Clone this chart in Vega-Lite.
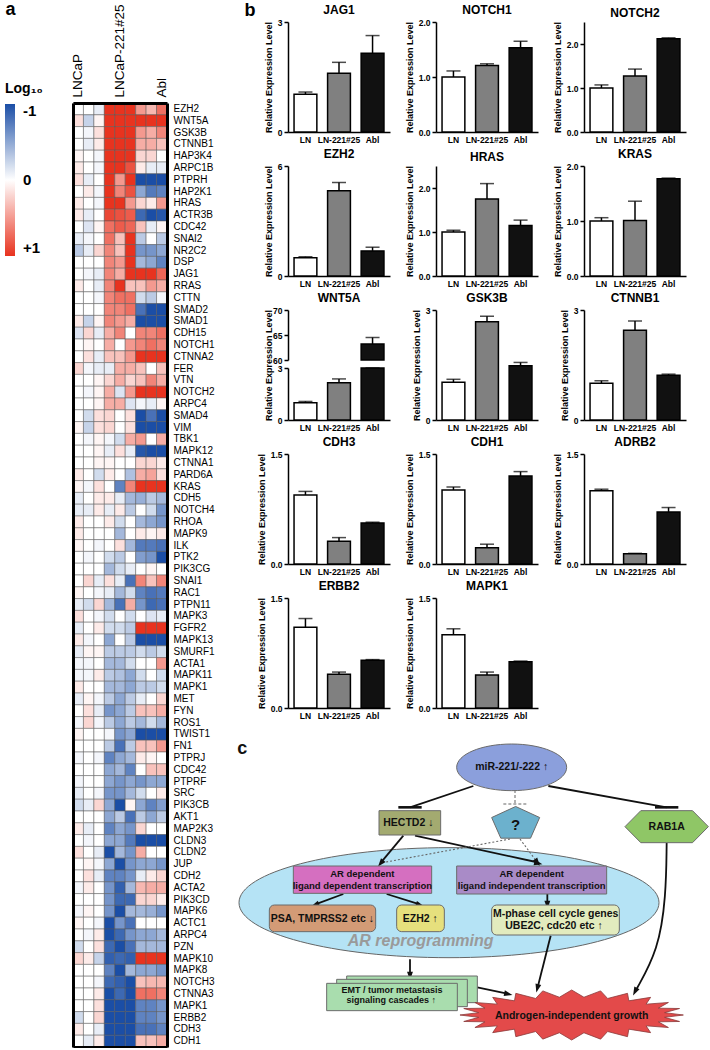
{
  "$schema": "https://vega.github.io/schema/vega-lite/v6.json",
  "padding": {"left": 5, "right": 5, "top": 0, "bottom": 0},
  "config": {
    "font": "Liberation Sans",
    "view": {"stroke": null},
    "title": {"fontSize": 12, "fontWeight": "bold", "color": "black", "offset": 1, "font": "Liberation Sans"},
    "axis": {"grid": false, "labelColor": "black", "labelFontSize": 8.5, "labelFontWeight": "bold", "titleColor": "black", "titleFontSize": 9, "titleFontWeight": "bold", "domainColor": "black", "domainWidth": 1.5, "tickColor": "black", "tickWidth": 1.5, "tickSize": 4, "labelFont": "Liberation Sans", "titleFont": "Liberation Sans"},
    "axisX": {"ticks": false, "labelAngle": 0, "labelPadding": 3},
    "axisY": {"labelPadding": 2, "titlePadding": 4}
  },
  "datasets": {
    "heat": [
      {"g":"EZH2","L1":0,"L2":0,"L3":-0.1,"M1":1,"M2":1,"M3":1,"A1":0.5,"A2":0.35,"A3":0.7},
      {"g":"WNT5A","L1":0.15,"L2":-0.25,"L3":0.05,"M1":1,"M2":1,"M3":1,"A1":1,"A2":1,"A3":1},
      {"g":"GSK3B","L1":0,"L2":-0.05,"L3":0.15,"M1":1,"M2":1,"M3":1,"A1":0.5,"A2":0.4,"A3":0.6},
      {"g":"CTNNB1","L1":0,"L2":-0.1,"L3":0.1,"M1":1,"M2":1,"M3":1,"A1":0.4,"A2":0.4,"A3":0.3},
      {"g":"HAP3K4","L1":0.05,"L2":0,"L3":-0.05,"M1":1,"M2":1,"M3":1,"A1":0.2,"A2":0.2,"A3":0},
      {"g":"ARPC1B","L1":0.1,"L2":0,"L3":-0.05,"M1":1,"M2":1,"M3":0.85,"A1":0.1,"A2":-0.1,"A3":-0.1},
      {"g":"PTPRH","L1":0.15,"L2":-0.1,"L3":0,"M1":1,"M2":0.5,"M3":1,"A1":-1,"A2":-1,"A3":-1},
      {"g":"HAP2K1","L1":0,"L2":0.1,"L3":-0.05,"M1":1,"M2":0.6,"M3":0.85,"A1":-0.5,"A2":-0.75,"A3":-0.7},
      {"g":"HRAS","L1":0.1,"L2":0,"L3":-0.05,"M1":1,"M2":1,"M3":0.5,"A1":0.2,"A2":0.1,"A3":0.5},
      {"g":"ACTR3B","L1":0.1,"L2":-0.1,"L3":0,"M1":0.9,"M2":0.85,"M3":0.8,"A1":-0.85,"A2":-1,"A3":-0.95},
      {"g":"CDC42","L1":0,"L2":-0.15,"L3":0.05,"M1":0.7,"M2":0.8,"M3":0.75,"A1":0.3,"A2":-0.1,"A3":0.05},
      {"g":"SNAI2","L1":-0.1,"L2":-0.05,"L3":0,"M1":0.7,"M2":0.3,"M3":1,"A1":-0.3,"A2":0,"A3":-0.3},
      {"g":"NR2C2","L1":-0.3,"L2":-0.1,"L3":0.2,"M1":0.6,"M2":0.3,"M3":1,"A1":-0.6,"A2":-0.6,"A3":-0.5},
      {"g":"DSP","L1":0,"L2":0,"L3":0,"M1":0.6,"M2":0.5,"M3":1,"A1":-0.4,"A2":-0.5,"A3":-0.7},
      {"g":"JAG1","L1":0,"L2":-0.05,"L3":-0.1,"M1":0.6,"M2":0.4,"M3":1,"A1":1,"A2":1,"A3":0.75},
      {"g":"RRAS","L1":0.1,"L2":0,"L3":-0.1,"M1":0.6,"M2":1,"M3":0.3,"A1":0.3,"A2":0.5,"A3":0.4},
      {"g":"CTTN","L1":0,"L2":0,"L3":-0.05,"M1":0.6,"M2":0.7,"M3":0.7,"A1":-0.2,"A2":-0.3,"A3":-0.05},
      {"g":"SMAD2","L1":0,"L2":0,"L3":0,"M1":0.6,"M2":0.6,"M3":0.7,"A1":-0.8,"A2":-1,"A3":-1},
      {"g":"SMAD1","L1":0.1,"L2":-0.25,"L3":0.05,"M1":0.6,"M2":0.5,"M3":0.4,"A1":-1,"A2":-1,"A3":-1},
      {"g":"CDH15","L1":-0.15,"L2":0.2,"L3":-0.1,"M1":0.4,"M2":0.6,"M3":0,"A1":0.6,"A2":0.6,"A3":0.7},
      {"g":"NOTCH1","L1":0,"L2":0.05,"L3":0,"M1":0.4,"M2":0,"M3":0.5,"A1":0.6,"A2":0.7,"A3":0.6},
      {"g":"CTNNA2","L1":0,"L2":0.15,"L3":-0.1,"M1":0.3,"M2":0.3,"M3":0.5,"A1":1,"A2":1,"A3":1},
      {"g":"FER","L1":0.2,"L2":-0.05,"L3":-0.1,"M1":-0.1,"M2":0.4,"M3":0.4,"A1":0.3,"A2":0,"A3":0.3},
      {"g":"VTN","L1":0,"L2":0,"L3":0.05,"M1":0.2,"M2":0.4,"M3":0.2,"A1":0.3,"A2":0.6,"A3":0.4},
      {"g":"NOTCH2","L1":0,"L2":-0.05,"L3":0.05,"M1":0.4,"M2":-0.15,"M3":0.5,"A1":1,"A2":1,"A3":1},
      {"g":"ARPC4","L1":0,"L2":0,"L3":0.05,"M1":0.4,"M2":0.4,"M3":-0.15,"A1":-0.05,"A2":-0.1,"A3":0.05},
      {"g":"SMAD4","L1":0,"L2":-0.2,"L3":0.15,"M1":0.2,"M2":0,"M3":0.15,"A1":-1,"A2":-0.8,"A3":-1},
      {"g":"VIM","L1":0.05,"L2":-0.25,"L3":0.15,"M1":0.2,"M2":0,"M3":0.15,"A1":-1,"A2":-1,"A3":-1},
      {"g":"TBK1","L1":0,"L2":-0.05,"L3":0.05,"M1":-0.05,"M2":-0.2,"M3":0.4,"A1":0.5,"A2":0,"A3":0.4},
      {"g":"MAPK12","L1":0,"L2":0,"L3":0.05,"M1":-0.1,"M2":0.15,"M3":-0.1,"A1":-0.95,"A2":-1,"A3":-1},
      {"g":"CTNNA1","L1":0,"L2":0,"L3":0.05,"M1":0.05,"M2":0,"M3":0,"A1":0.2,"A2":0.2,"A3":0.1},
      {"g":"PARD6A","L1":0.1,"L2":0,"L3":-0.2,"M1":0.1,"M2":0,"M3":-0.35,"A1":0.4,"A2":0.45,"A3":0.15},
      {"g":"KRAS","L1":0.05,"L2":-0.05,"L3":0.15,"M1":0,"M2":-0.7,"M3":0.6,"A1":1,"A2":1,"A3":1},
      {"g":"CDH5","L1":-0.1,"L2":0,"L3":0.1,"M1":0.1,"M2":-0.1,"M3":-0.4,"A1":-0.45,"A2":-0.3,"A3":-0.4},
      {"g":"NOTCH4","L1":-0.1,"L2":-0.1,"L3":0.1,"M1":-0.1,"M2":0.1,"M3":-0.3,"A1":0,"A2":-0.2,"A3":-0.6},
      {"g":"RHOA","L1":0.1,"L2":0,"L3":0,"M1":0.1,"M2":-0.2,"M3":0,"A1":-0.4,"A2":-0.5,"A3":-0.6},
      {"g":"MAPK9","L1":0.1,"L2":0,"L3":0,"M1":0,"M2":-0.4,"M3":0,"A1":0.1,"A2":0.05,"A3":0.1},
      {"g":"ILK","L1":0.05,"L2":0,"L3":-0.05,"M1":0,"M2":0.15,"M3":-0.4,"A1":-0.75,"A2":-0.75,"A3":-0.8},
      {"g":"PTK2","L1":0,"L2":-0.05,"L3":0,"M1":-0.2,"M2":-0.3,"M3":0,"A1":-0.55,"A2":-0.6,"A3":-1},
      {"g":"PIK3CG","L1":0,"L2":0,"L3":0,"M1":-0.4,"M2":-0.2,"M3":-0.1,"A1":0,"A2":0.05,"A3":0},
      {"g":"SNAI1","L1":0,"L2":0.2,"L3":-0.1,"M1":0.15,"M2":-0.1,"M3":-0.8,"A1":0.6,"A2":0.3,"A3":0.6},
      {"g":"RAC1","L1":0.05,"L2":0,"L3":-0.05,"M1":-0.1,"M2":-0.4,"M3":-0.2,"A1":-0.7,"A2":-0.8,"A3":-0.75},
      {"g":"PTPN11","L1":-0.1,"L2":-0.2,"L3":0.2,"M1":-0.4,"M2":-0.8,"M3":0.4,"A1":-0.6,"A2":-0.85,"A3":-0.8},
      {"g":"MAPK3","L1":0.15,"L2":0,"L3":-0.05,"M1":-0.2,"M2":0,"M3":-0.2,"A1":0,"A2":-0.15,"A3":-0.1},
      {"g":"FGFR2","L1":-0.1,"L2":0,"L3":0.1,"M1":-0.2,"M2":-0.2,"M3":-0.3,"A1":1,"A2":1,"A3":1},
      {"g":"MAPK13","L1":0.1,"L2":-0.05,"L3":0,"M1":-0.5,"M2":0,"M3":-0.3,"A1":-1,"A2":-1,"A3":-1},
      {"g":"SMURF1","L1":-0.1,"L2":0.05,"L3":0.05,"M1":-0.3,"M2":-0.3,"M3":-0.3,"A1":-0.2,"A2":-0.3,"A3":-0.2},
      {"g":"ACTA1","L1":-0.05,"L2":-0.05,"L3":0,"M1":-0.4,"M2":-0.4,"M3":-0.2,"A1":0,"A2":0,"A3":0.5},
      {"g":"MAPK11","L1":-0.05,"L2":-0.05,"L3":0.1,"M1":-0.3,"M2":-0.35,"M3":-0.5,"A1":-0.2,"A2":0,"A3":-0.2},
      {"g":"MAPK1","L1":0.1,"L2":0,"L3":0,"M1":-0.4,"M2":-0.4,"M3":-0.5,"A1":-0.3,"A2":-0.3,"A3":-0.2},
      {"g":"MET","L1":-0.1,"L2":0.05,"L3":-0.05,"M1":-0.3,"M2":-0.5,"M3":-0.3,"A1":-0.1,"A2":0,"A3":0.2},
      {"g":"FYN","L1":0,"L2":0.15,"L3":-0.1,"M1":-0.6,"M2":-0.5,"M3":-0.3,"A1":0.3,"A2":0.3,"A3":0.4},
      {"g":"ROS1","L1":-0.05,"L2":0.2,"L3":-0.05,"M1":-0.3,"M2":-0.5,"M3":-0.3,"A1":-0.4,"A2":-0.2,"A3":-0.4},
      {"g":"TWIST1","L1":0.05,"L2":0,"L3":0,"M1":-0.05,"M2":-0.6,"M3":-0.5,"A1":-1,"A2":-1,"A3":-1},
      {"g":"FN1","L1":0,"L2":0,"L3":0,"M1":-0.3,"M2":-0.8,"M3":-0.3,"A1":0.3,"A2":0.3,"A3":0.5},
      {"g":"PTPRJ","L1":-0.05,"L2":0,"L3":-0.05,"M1":-0.7,"M2":-0.5,"M3":-0.4,"A1":0.1,"A2":0.05,"A3":0},
      {"g":"CDC42 ","L1":0,"L2":0,"L3":0,"M1":-0.5,"M2":-0.4,"M3":-0.7,"A1":0,"A2":0.3,"A3":0.3},
      {"g":"PTPRF","L1":-0.05,"L2":0,"L3":0,"M1":-0.5,"M2":-0.6,"M3":-0.5,"A1":-0.6,"A2":-0.5,"A3":-0.5},
      {"g":"SRC","L1":-0.1,"L2":0,"L3":-0.05,"M1":-0.6,"M2":-0.6,"M3":-0.4,"A1":-0.2,"A2":0,"A3":0.1},
      {"g":"PIK3CB","L1":-0.2,"L2":-0.1,"L3":0.2,"M1":-0.5,"M2":-1,"M3":0.05,"A1":-0.5,"A2":-0.7,"A3":-0.55},
      {"g":"AKT1","L1":0,"L2":0,"L3":0,"M1":-0.5,"M2":-0.3,"M3":-0.8,"A1":-0.3,"A2":-0.5,"A3":-0.3},
      {"g":"MAP2K3","L1":0.1,"L2":-0.1,"L3":0,"M1":-0.7,"M2":-0.5,"M3":-0.6,"A1":0.2,"A2":0,"A3":0},
      {"g":"CLDN3","L1":0,"L2":-0.05,"L3":0,"M1":-0.5,"M2":-0.5,"M3":-0.75,"A1":-1,"A2":-1,"A3":-1},
      {"g":"CLDN2","L1":0.15,"L2":0,"L3":-0.1,"M1":-1,"M2":-0.4,"M3":-0.6,"A1":0.4,"A2":0,"A3":0},
      {"g":"JUP","L1":0,"L2":0.05,"L3":-0.05,"M1":-0.5,"M2":-1,"M3":-0.6,"A1":-0.5,"A2":-0.5,"A3":-0.6},
      {"g":"CDH2","L1":0,"L2":0.15,"L3":-0.1,"M1":-0.7,"M2":-0.7,"M3":-0.6,"A1":-0.1,"A2":0.1,"A3":0.2},
      {"g":"ACTA2","L1":-0.05,"L2":0.1,"L3":0,"M1":-0.6,"M2":-0.9,"M3":-0.4,"A1":0.35,"A2":0.4,"A3":0.4},
      {"g":"PIK3CD","L1":0,"L2":0,"L3":0,"M1":-0.6,"M2":-0.85,"M3":-0.85,"A1":0.2,"A2":0.2,"A3":0.1},
      {"g":"MAPK6","L1":-0.05,"L2":0.05,"L3":0,"M1":-0.6,"M2":-1,"M3":-0.4,"A1":-0.4,"A2":-0.45,"A3":-0.6},
      {"g":"ACTC1","L1":0.05,"L2":0,"L3":-0.05,"M1":-1,"M2":-0.6,"M3":-0.8,"A1":0,"A2":0,"A3":0},
      {"g":"ARPC4 ","L1":0,"L2":-0.05,"L3":0.1,"M1":-1,"M2":-0.85,"M3":-0.6,"A1":-0.5,"A2":-0.5,"A3":-0.4},
      {"g":"PZN","L1":-0.2,"L2":0,"L3":0.15,"M1":-0.85,"M2":-1,"M3":-0.8,"A1":-0.4,"A2":-0.4,"A3":-0.4},
      {"g":"MAPK10","L1":0.2,"L2":0.1,"L3":-0.25,"M1":-0.9,"M2":-0.85,"M3":-0.9,"A1":1,"A2":1,"A3":1},
      {"g":"MAPK8","L1":0,"L2":0,"L3":0,"M1":-0.7,"M2":-1,"M3":-0.4,"A1":-0.5,"A2":-0.5,"A3":-0.6},
      {"g":"NOTCH3","L1":0,"L2":0,"L3":-0.05,"M1":-0.85,"M2":-0.9,"M3":-1,"A1":0.3,"A2":0.35,"A3":0.35},
      {"g":"CTNNA3","L1":0,"L2":0,"L3":0.1,"M1":-1,"M2":-0.85,"M3":-1,"A1":0.7,"A2":0.7,"A3":0.6},
      {"g":"MAPK1 ","L1":0,"L2":0,"L3":0.15,"M1":-1,"M2":-1,"M3":-1,"A1":-0.7,"A2":-0.7,"A3":-0.6},
      {"g":"ERBB2","L1":-0.2,"L2":0,"L3":0.2,"M1":-1,"M2":-1,"M3":-1,"A1":-0.7,"A2":-0.7,"A3":-0.6},
      {"g":"CDH3","L1":0.1,"L2":0,"L3":-0.1,"M1":-1,"M2":-1,"M3":-1,"A1":-0.8,"A2":-0.8,"A3":-0.7},
      {"g":"CDH1","L1":0,"L2":-0.1,"L3":0.1,"M1":-1,"M2":-1,"M3":-1,"A1":0.3,"A2":0.3,"A3":0.4}
    ],
    "bars": [
      {"gene":"JAG1","grp":"LN","val":1.03,"hi":1.09},{"gene":"JAG1","grp":"LN-221#25","val":1.6,"hi":1.9},{"gene":"JAG1","grp":"Abl","val":2.15,"hi":2.63},
      {"gene":"NOTCH1","grp":"LN","val":1.0,"hi":1.11},{"gene":"NOTCH1","grp":"LN-221#25","val":1.21,"hi":1.24},{"gene":"NOTCH1","grp":"Abl","val":1.53,"hi":1.65},
      {"gene":"NOTCH2","grp":"LN","val":1.0,"hi":1.07},{"gene":"NOTCH2","grp":"LN-221#25","val":1.27,"hi":1.43},{"gene":"NOTCH2","grp":"Abl","val":2.12,"hi":2.14},
      {"gene":"EZH2","grp":"LN","val":1.0,"hi":1.05},{"gene":"EZH2","grp":"LN-221#25","val":4.65,"hi":5.1},{"gene":"EZH2","grp":"Abl","val":1.37,"hi":1.57},
      {"gene":"HRAS","grp":"LN","val":1.0,"hi":1.04},{"gene":"HRAS","grp":"LN-221#25","val":1.75,"hi":2.1},{"gene":"HRAS","grp":"Abl","val":1.15,"hi":1.27},
      {"gene":"KRAS","grp":"LN","val":1.0,"hi":1.06},{"gene":"KRAS","grp":"LN-221#25","val":1.01,"hi":1.36},{"gene":"KRAS","grp":"Abl","val":1.77,"hi":1.78},
      {"gene":"WNT5A","grp":"LN","val":1.0,"hi":1.07},{"gene":"WNT5A","grp":"LN-221#25","val":2.15,"hi":2.37},{"gene":"WNT5A","grp":"Abl","val":63.2,"hi":64.5},
      {"gene":"GSK3B","grp":"LN","val":1.03,"hi":1.11},{"gene":"GSK3B","grp":"LN-221#25","val":2.68,"hi":2.83},{"gene":"GSK3B","grp":"Abl","val":1.48,"hi":1.57},
      {"gene":"CTNNB1","grp":"LN","val":1.0,"hi":1.07},{"gene":"CTNNB1","grp":"LN-221#25","val":2.45,"hi":2.7},{"gene":"CTNNB1","grp":"Abl","val":1.22,"hi":1.25},
      {"gene":"CDH3","grp":"LN","val":0.94,"hi":0.99},{"gene":"CDH3","grp":"LN-221#25","val":0.31,"hi":0.36},{"gene":"CDH3","grp":"Abl","val":0.56,"hi":0.57},
      {"gene":"CDH1","grp":"LN","val":1.01,"hi":1.05},{"gene":"CDH1","grp":"LN-221#25","val":0.22,"hi":0.27},{"gene":"CDH1","grp":"Abl","val":1.2,"hi":1.26},
      {"gene":"ADRB2","grp":"LN","val":1.0,"hi":1.02},{"gene":"ADRB2","grp":"LN-221#25","val":0.14,"hi":0.145},{"gene":"ADRB2","grp":"Abl","val":0.71,"hi":0.77},
      {"gene":"ERBB2","grp":"LN","val":1.1,"hi":1.22},{"gene":"ERBB2","grp":"LN-221#25","val":0.46,"hi":0.49},{"gene":"ERBB2","grp":"Abl","val":0.65,"hi":0.66},
      {"gene":"MAPK1","grp":"LN","val":1.0,"hi":1.08},{"gene":"MAPK1","grp":"LN-221#25","val":0.45,"hi":0.49},{"gene":"MAPK1","grp":"Abl","val":0.63,"hi":0.64}
    ],
    "shapes": [
      {"id":"ar","x":657,"y":638},{"id":"mir","x":845,"y":232},{"id":"q","x":857,"y":397},{"id":"rab1a","x":1310,"y":410},{"id":"growth","x":1025,"y":975}
    ],
    "boxes": [
      {"id":"hectd2","x":447,"x2":632,"y":362,"y2":435},
      {"id":"pink","x":190,"x2":605,"y":528,"y2":610},
      {"id":"purple","x":680,"x2":1130,"y":528,"y2":612},
      {"id":"emt3","x":350,"x2":742,"y":858,"y2":938},
      {"id":"emt2","x":320,"x2":712,"y":868,"y2":950},
      {"id":"emt","x":290,"x2":682,"y":880,"y2":962}
    ],
    "rboxes": [
      {"id":"psa","x":118,"x2":437,"y":645,"y2":725},
      {"id":"ezh2","x":500,"x2":643,"y":645,"y2":725},
      {"id":"mphase","x":785,"x2":1168,"y":645,"y2":735}
    ],
    "lines": [
      {"k":"solid","x":730,"y":288,"x2":540,"y2":352},
      {"k":"tbar","x":505,"y":352,"x2":575,"y2":352},
      {"k":"solid","x":955,"y":288,"x2":1310,"y2":352},
      {"k":"tbar","x":1275,"y":352,"x2":1345,"y2":352},
      {"k":"solid","x":520,"y":437,"x2":455,"y2":515},
      {"k":"solid","x":555,"y":437,"x2":918,"y2":516},
      {"k":"solid","x":340,"y":612,"x2":262,"y2":641},
      {"k":"solid","x":470,"y":612,"x2":562,"y2":641},
      {"k":"solid","x":952,"y":612,"x2":952,"y2":640},
      {"k":"solid","x":540,"y":808,"x2":540,"y2":852},
      {"k":"solid","x":742,"y":892,"x2":828,"y2":910},
      {"k":"solid","x":962,"y":737,"x2":924,"y2":888},
      {"k":"dash","x":855,"y":300,"x2":855,"y2":340},
      {"k":"dash","x":820,"y":342,"x2":890,"y2":342},
      {"k":"dot","x":840,"y":447,"x2":458,"y2":518},
      {"k":"dot","x":870,"y":447,"x2":918,"y2":512}
    ],
    "curve": [
      {"i":0,"x":1310,"y":458},{"i":1,"x":1308,"y":620},{"i":2,"x":1285,"y":780},{"i":3,"x":1218,"y":900}
    ],
    "heads": [
      {"x":452,"y":520,"a":218.7},{"x":925,"y":520,"a":102.9},{"x":922,"y":518,"a":143.8},
      {"x":255,"y":645,"a":248.8},{"x":570,"y":645,"a":108.3},{"x":952,"y":645,"a":180},
      {"x":540,"y":858,"a":180},{"x":835,"y":912,"a":102.1},{"x":922,"y":895,"a":194.2},{"x":1215,"y":905,"a":207.5}
    ],
    "texts": [
      {"k":"lbl","x":845,"y":232,"t":"miR-221/-222 ↑"},
      {"k":"lbl","x":535,"y":400,"t":"HECTD2 ↓"},
      {"k":"q","x":857,"y":405,"t":"?"},
      {"k":"lbl","x":1310,"y":410,"t":"RAB1A"},
      {"k":"sm","x":397,"y":553,"t":"AR dependent"},
      {"k":"sm","x":397,"y":587,"t":"ligand dependent transcription"},
      {"k":"sm","x":905,"y":553,"t":"AR dependent"},
      {"k":"sm","x":905,"y":588,"t":"ligand independent transcription"},
      {"k":"lbl","x":277,"y":686,"t":"PSA, TMPRSS2 etc ↓"},
      {"k":"lbl","x":571,"y":686,"t":"EZH2 ↑"},
      {"k":"lbl","x":977,"y":672,"t":"M-phase cell cycle genes"},
      {"k":"lbl","x":972,"y":708,"t":"UBE2C, cdc20 etc ↑"},
      {"k":"big","x":572,"y":752,"t":"AR reprogramming"},
      {"k":"tiny","x":486,"y":900,"t":"EMT / tumor metastasis"},
      {"k":"tiny","x":484,"y":930,"t":"signaling cascades ↑"},
      {"k":"lbl","x":1025,"y":978,"t":"Androgen-independent growth"},
      {"k":"letter","x":37,"y":178,"t":"c"}
    ]
  },
  "resolve": {"scale": {"fill": "independent"}},
  "bounds": "flush",
  "spacing": 121,
  "hconcat": [
    {
      "width": 94, "height": 1025,
      "layer": [
        {
          "data": {"name": "heat"},
          "transform": [{"fold": ["L1","L2","L3","M1","M2","M3","A1","A2","A3"], "as": ["col","v"]}],
          "mark": {"type": "rect", "stroke": "#555555", "strokeWidth": 0.5},
          "encoding": {
            "x": {"field": "col", "type": "nominal", "sort": ["L1","L2","L3","M1","M2","M3","A1","A2","A3"],
                  "axis": {"orient": "top", "offset": -81, "title": null, "ticks": false, "domain": true, "domainWidth": 3, "labelAngle": -90, "labelFontSize": 13.5, "labelFontWeight": "normal", "labelPadding": 6,
                           "labelExpr": "datum.value==='L1'?'LNCaP':datum.value==='M2'?'LNCaP-221#25':datum.value==='A3'?'Abl':''"}},
            "y": {"field": "g", "type": "nominal", "sort": null, "scale": {"range": [81, 1025]},
                  "axis": {"orient": "right", "ticks": false, "domain": true, "domainWidth": 3, "labelFontSize": 10, "labelFontWeight": "normal", "labelPadding": 6,
                           "title": "b", "titleX": 77, "titleY": -7, "titleAngle": 0, "titleAlign": "left", "titleBaseline": "alphabetic", "titleFontSize": 18, "titleFontWeight": "bold"}},
            "fill": {"field": "v", "type": "quantitative",
                     "scale": {"domain": [1, 0, -1], "range": ["#e8331f", "#ffffff", "#1b4ea6"], "interpolate": "rgb"},
                     "legend": {"orient": "none", "legendX": -68, "legendY": 60, "direction": "vertical", "gradientLength": 152, "gradientThickness": 10,
                                "title": "Log₁₀", "titleFontSize": 14, "titleFontWeight": "bold", "titleColor": "black", "titlePadding": 8,
                                "labelFontSize": 15, "labelFontWeight": "bold", "labelColor": "black", "labelOffset": 8, "gradientStrokeWidth": 0,
                                "values": [-1, 0, 1], "labelExpr": "datum.value>0.5?'+1':datum.value<-0.5?'-1':'0'"}}
          }
        },
        {
          "data": {"name": "heat"},
          "mark": {"type": "rect", "opacity": 0},
          "encoding": {
            "x": {"field": "g", "type": "nominal", "sort": null,
                  "axis": {"orient": "bottom", "title": null, "labels": false, "ticks": false, "domain": true, "domainWidth": 3}},
            "y": {"field": "g", "type": "nominal", "sort": null, "scale": {"range": [81, 1025]},
                  "axis": {"orient": "left", "labels": false, "ticks": false, "domain": true, "domainWidth": 3,
                           "title": "a", "titleX": -68, "titleY": -8, "titleAngle": 0, "titleAlign": "left", "titleBaseline": "alphabetic", "titleFontSize": 18, "titleFontWeight": "bold"}}
          }
        },
        {
          "layer": [
            {"data":{"name":"shapes"},"transform":[{"filter":"datum.id==='ar'"}],
             "mark":{"type":"point","shape":"M-1,0A1,0.262,0,1,1,1,0A1,0.262,0,1,1,-1,0Z","size":176400,"filled":true,"opacity":1,"stroke":"#666666","strokeWidth":1},
             "encoding":{"x":{"field":"x","type":"quantitative","scale":{"domain":[0,1440],"range":[157,637],"nice":false,"zero":false},"axis":null},
                         "y":{"field":"y","type":"quantitative","scale":{"domain":[0,1080],"range":[668,1028],"nice":false,"zero":false},"axis":null},
                         "fill":{"field":"id","type":"nominal","scale":{"domain":["ar","mir","q","rab1a","growth","hectd2","pink","purple","psa","ezh2","mphase","emt","emt2","emt3"],"range":["#b5e3f5","#8b9fdc","#6cb1cd","#8fc666","#e34a4a","#a3aa70","#d56fc0","#a98bc7","#d39b76","#e6e07d","#e2ebbe","#a9ddae","#a9ddae","#a9ddae"]},"legend":null}}},
            {"data":{"name":"lines"},"transform":[{"filter":"datum.k==='solid'"}],
             "mark":{"type":"rule","color":"#111111","strokeWidth":1.8},
             "encoding":{"x":{"field":"x","type":"quantitative","axis":null},"x2":{"field":"x2"},"y":{"field":"y","type":"quantitative","axis":null},"y2":{"field":"y2"}}},
            {"data":{"name":"lines"},"transform":[{"filter":"datum.k==='tbar'"}],
             "mark":{"type":"rule","color":"#111111","strokeWidth":2.6},
             "encoding":{"x":{"field":"x","type":"quantitative","axis":null},"x2":{"field":"x2"},"y":{"field":"y","type":"quantitative","axis":null},"y2":{"field":"y2"}}},
            {"data":{"name":"lines"},"transform":[{"filter":"datum.k==='dash'"}],
             "mark":{"type":"rule","color":"#999999","strokeWidth":1.5,"strokeDash":[3,2]},
             "encoding":{"x":{"field":"x","type":"quantitative","axis":null},"x2":{"field":"x2"},"y":{"field":"y","type":"quantitative","axis":null},"y2":{"field":"y2"}}},
            {"data":{"name":"lines"},"transform":[{"filter":"datum.k==='dot'"}],
             "mark":{"type":"rule","color":"#666666","strokeWidth":1.1,"strokeDash":[2,2]},
             "encoding":{"x":{"field":"x","type":"quantitative","axis":null},"x2":{"field":"x2"},"y":{"field":"y","type":"quantitative","axis":null},"y2":{"field":"y2"}}},
            {"data":{"name":"curve"},
             "mark":{"type":"line","color":"#111111","strokeWidth":1.8,"interpolate":"basis"},
             "encoding":{"x":{"field":"x","type":"quantitative","axis":null},"y":{"field":"y","type":"quantitative","axis":null},"order":{"field":"i","type":"quantitative"}}},
            {"data":{"name":"heads"},
             "mark":{"type":"point","shape":"M0,-1L0.7,1L-0.7,1Z","size":70,"filled":true,"opacity":1,"color":"#111111"},
             "encoding":{"x":{"field":"x","type":"quantitative","axis":null},"y":{"field":"y","type":"quantitative","axis":null},"angle":{"field":"a","type":"quantitative","scale":null}}},
            {"data":{"name":"boxes"},
             "mark":{"type":"rect","stroke":"#6b6b6b","strokeWidth":1},
             "encoding":{"x":{"field":"x","type":"quantitative","axis":null},"x2":{"field":"x2"},"y":{"field":"y","type":"quantitative","axis":null},"y2":{"field":"y2"},"fill":{"field":"id","type":"nominal","legend":null}}},
            {"data":{"name":"rboxes"},
             "mark":{"type":"rect","stroke":"#6b6b6b","strokeWidth":1,"cornerRadius":5},
             "encoding":{"x":{"field":"x","type":"quantitative","axis":null},"x2":{"field":"x2"},"y":{"field":"y","type":"quantitative","axis":null},"y2":{"field":"y2"},"fill":{"field":"id","type":"nominal","legend":null}}},
            {"data":{"name":"shapes"},"transform":[{"filter":"datum.id==='mir'"}],
             "mark":{"type":"point","shape":"M-1,0A1,0.424,0,1,1,1,0A1,0.424,0,1,1,-1,0Z","size":12100,"filled":true,"opacity":1,"stroke":"#6b6b6b","strokeWidth":1},
             "encoding":{"x":{"field":"x","type":"quantitative","axis":null},"y":{"field":"y","type":"quantitative","axis":null},"fill":{"field":"id","type":"nominal","legend":null}}},
            {"data":{"name":"shapes"},"transform":[{"filter":"datum.id==='q'"}],
             "mark":{"type":"point","shape":"M0,-0.66L1,-0.2L0.62,0.66L-0.62,0.66L-1,-0.2Z","size":2304,"filled":true,"opacity":1,"stroke":"#6b6b6b","strokeWidth":1},
             "encoding":{"x":{"field":"x","type":"quantitative","axis":null},"y":{"field":"y","type":"quantitative","axis":null},"fill":{"field":"id","type":"nominal","legend":null}}},
            {"data":{"name":"shapes"},"transform":[{"filter":"datum.id==='rab1a'"}],
             "mark":{"type":"point","shape":"M-1,0L-0.62,-0.384L0.62,-0.384L1,0L0.62,0.384L-0.62,0.384Z","size":6950,"filled":true,"opacity":1,"stroke":"#6b6b6b","strokeWidth":1},
             "encoding":{"x":{"field":"x","type":"quantitative","axis":null},"y":{"field":"y","type":"quantitative","axis":null},"fill":{"field":"id","type":"nominal","legend":null}}},
            {"data":{"name":"shapes"},"transform":[{"filter":"datum.id==='growth'"}],
             "mark":{"type":"point","shape":"M1,0L0.832,0.021L0.966,0.058L0.776,0.061L0.866,0.112L0.666,0.097L0.707,0.158L0.512,0.127L0.5,0.194L0.322,0.148L0.259,0.216L0.11,0.159L0,0.224L-0.11,0.159L-0.259,0.216L-0.322,0.148L-0.5,0.194L-0.512,0.127L-0.707,0.158L-0.666,0.097L-0.866,0.112L-0.776,0.061L-0.966,0.058L-0.832,0.021L-1,0L-0.832,-0.021L-0.966,-0.058L-0.776,-0.061L-0.866,-0.112L-0.666,-0.097L-0.707,-0.158L-0.512,-0.127L-0.5,-0.194L-0.322,-0.148L-0.259,-0.216L-0.11,-0.159L0,-0.224L0.11,-0.159L0.259,-0.216L0.322,-0.148L0.5,-0.194L0.512,-0.127L0.707,-0.158L0.666,-0.097L0.866,-0.112L0.776,-0.061L0.966,-0.058L0.832,-0.021Z","size":49900,"filled":true,"opacity":1,"stroke":"#8a3a3a","strokeWidth":0.8},
             "encoding":{"x":{"field":"x","type":"quantitative","axis":null},"y":{"field":"y","type":"quantitative","axis":null},"fill":{"field":"id","type":"nominal","legend":null}}},
            {"data":{"name":"texts"},"transform":[{"filter":"datum.k==='lbl'"}],
             "mark":{"type":"text","fontWeight":"bold","fontSize":10.5,"color":"#111111"},
             "encoding":{"x":{"field":"x","type":"quantitative","axis":null},"y":{"field":"y","type":"quantitative","axis":null},"text":{"field":"t"}}},
            {"data":{"name":"texts"},"transform":[{"filter":"datum.k==='sm'"}],
             "mark":{"type":"text","fontWeight":"bold","fontSize":9.5,"color":"#111111"},
             "encoding":{"x":{"field":"x","type":"quantitative","axis":null},"y":{"field":"y","type":"quantitative","axis":null},"text":{"field":"t"}}},
            {"data":{"name":"texts"},"transform":[{"filter":"datum.k==='tiny'"}],
             "mark":{"type":"text","fontWeight":"bold","fontSize":9,"color":"#111111"},
             "encoding":{"x":{"field":"x","type":"quantitative","axis":null},"y":{"field":"y","type":"quantitative","axis":null},"text":{"field":"t"}}},
            {"data":{"name":"texts"},"transform":[{"filter":"datum.k==='q'"}],
             "mark":{"type":"text","fontWeight":"bold","fontSize":15,"color":"#111111"},
             "encoding":{"x":{"field":"x","type":"quantitative","axis":null},"y":{"field":"y","type":"quantitative","axis":null},"text":{"field":"t"}}},
            {"data":{"name":"texts"},"transform":[{"filter":"datum.k==='big'"}],
             "mark":{"type":"text","fontWeight":"bold","fontStyle":"italic","fontSize":16,"color":"#9a9a9a"},
             "encoding":{"x":{"field":"x","type":"quantitative","axis":null},"y":{"field":"y","type":"quantitative","axis":null},"text":{"field":"t"}}},
            {"data":{"name":"texts"},"transform":[{"filter":"datum.k==='letter'"}],
             "mark":{"type":"text","fontWeight":"bold","fontSize":18,"color":"#111111"},
             "encoding":{"x":{"field":"x","type":"quantitative","axis":null},"y":{"field":"y","type":"quantitative","axis":null},"text":{"field":"t"}}}
          ]
        }
      ],
      "resolve": {"scale": {"x": "independent", "y": "independent", "fill": "independent"}, "axis": {"x": "independent", "y": "independent"}}
    },
    {
      "columns": 3,
      "spacing": {"row": 34, "column": 46},
      "bounds": "flush",
      "concat": [
        {"width":102,"height":110,"title":"JAG1","data":{"name":"bars"},"transform":[{"filter":"datum.gene==='JAG1'"}],
         "encoding":{"x":{"field":"grp","type":"nominal","sort":["LN","LN-221#25","Abl"],"scale":{"domain":["LN","LN-221#25","Abl"],"paddingInner":0.32,"paddingOuter":0.18},"title":null}},
         "layer":[
           {"mark":{"type":"rule","color":"black","strokeWidth":1.5},"encoding":{"y":{"field":"val","type":"quantitative","title":"Relative Expression Level","scale":{"domain":[0,3],"nice":false},"axis":{"values":[0,1,2,3],"format":"d"}},"y2":{"field":"hi"}}},
           {"mark":{"type":"tick","color":"black","thickness":1.5,"size":14},"encoding":{"y":{"field":"hi","type":"quantitative","title":"Relative Expression Level"}}},
           {"mark":{"type":"bar","stroke":"black","strokeWidth":1.5},"encoding":{"y":{"field":"val","type":"quantitative","title":"Relative Expression Level"},"fill":{"field":"grp","type":"nominal","scale":{"domain":["LN","LN-221#25","Abl"],"range":["#ffffff","#808080","#111111"]},"legend":null}}}
         ]},
        {"width":102,"height":110,"title":"NOTCH1","data":{"name":"bars"},"transform":[{"filter":"datum.gene==='NOTCH1'"}],
         "encoding":{"x":{"field":"grp","type":"nominal","sort":["LN","LN-221#25","Abl"],"scale":{"domain":["LN","LN-221#25","Abl"],"paddingInner":0.32,"paddingOuter":0.18},"title":null}},
         "layer":[
           {"mark":{"type":"rule","color":"black","strokeWidth":1.5},"encoding":{"y":{"field":"val","type":"quantitative","title":"Relative Expression Level","scale":{"domain":[0,2],"nice":false},"axis":{"values":[0,0.5,1,1.5,2],"format":".1f"}},"y2":{"field":"hi"}}},
           {"mark":{"type":"tick","color":"black","thickness":1.5,"size":14},"encoding":{"y":{"field":"hi","type":"quantitative","title":"Relative Expression Level"}}},
           {"mark":{"type":"bar","stroke":"black","strokeWidth":1.5},"encoding":{"y":{"field":"val","type":"quantitative","title":"Relative Expression Level"},"fill":{"field":"grp","type":"nominal","scale":{"domain":["LN","LN-221#25","Abl"],"range":["#ffffff","#808080","#111111"]},"legend":null}}}
         ]},
        {"width":102,"height":110,"title":"NOTCH2","data":{"name":"bars"},"transform":[{"filter":"datum.gene==='NOTCH2'"}],
         "encoding":{"x":{"field":"grp","type":"nominal","sort":["LN","LN-221#25","Abl"],"scale":{"domain":["LN","LN-221#25","Abl"],"paddingInner":0.32,"paddingOuter":0.18},"title":null}},
         "layer":[
           {"mark":{"type":"rule","color":"black","strokeWidth":1.5},"encoding":{"y":{"field":"val","type":"quantitative","title":"Relative Expression Level","scale":{"domain":[0,2.5],"nice":false},"axis":{"values":[0,0.5,1,1.5,2,2.5],"format":".1f"}},"y2":{"field":"hi"}}},
           {"mark":{"type":"tick","color":"black","thickness":1.5,"size":14},"encoding":{"y":{"field":"hi","type":"quantitative","title":"Relative Expression Level"}}},
           {"mark":{"type":"bar","stroke":"black","strokeWidth":1.5},"encoding":{"y":{"field":"val","type":"quantitative","title":"Relative Expression Level"},"fill":{"field":"grp","type":"nominal","scale":{"domain":["LN","LN-221#25","Abl"],"range":["#ffffff","#808080","#111111"]},"legend":null}}}
         ]},
        {"width":102,"height":110,"title":"EZH2","data":{"name":"bars"},"transform":[{"filter":"datum.gene==='EZH2'"}],
         "encoding":{"x":{"field":"grp","type":"nominal","sort":["LN","LN-221#25","Abl"],"scale":{"domain":["LN","LN-221#25","Abl"],"paddingInner":0.32,"paddingOuter":0.18},"title":null}},
         "layer":[
           {"mark":{"type":"rule","color":"black","strokeWidth":1.5},"encoding":{"y":{"field":"val","type":"quantitative","title":"Relative Expression Level","scale":{"domain":[0,6],"nice":false},"axis":{"values":[0,2,4,6],"format":"d"}},"y2":{"field":"hi"}}},
           {"mark":{"type":"tick","color":"black","thickness":1.5,"size":14},"encoding":{"y":{"field":"hi","type":"quantitative","title":"Relative Expression Level"}}},
           {"mark":{"type":"bar","stroke":"black","strokeWidth":1.5},"encoding":{"y":{"field":"val","type":"quantitative","title":"Relative Expression Level"},"fill":{"field":"grp","type":"nominal","scale":{"domain":["LN","LN-221#25","Abl"],"range":["#ffffff","#808080","#111111"]},"legend":null}}}
         ]},
        {"width":102,"height":110,"title":"HRAS","data":{"name":"bars"},"transform":[{"filter":"datum.gene==='HRAS'"}],
         "encoding":{"x":{"field":"grp","type":"nominal","sort":["LN","LN-221#25","Abl"],"scale":{"domain":["LN","LN-221#25","Abl"],"paddingInner":0.32,"paddingOuter":0.18},"title":null}},
         "layer":[
           {"mark":{"type":"rule","color":"black","strokeWidth":1.5},"encoding":{"y":{"field":"val","type":"quantitative","title":"Relative Expression Level","scale":{"domain":[0,2.5],"nice":false},"axis":{"values":[0,0.5,1,1.5,2,2.5],"format":".1f"}},"y2":{"field":"hi"}}},
           {"mark":{"type":"tick","color":"black","thickness":1.5,"size":14},"encoding":{"y":{"field":"hi","type":"quantitative","title":"Relative Expression Level"}}},
           {"mark":{"type":"bar","stroke":"black","strokeWidth":1.5},"encoding":{"y":{"field":"val","type":"quantitative","title":"Relative Expression Level"},"fill":{"field":"grp","type":"nominal","scale":{"domain":["LN","LN-221#25","Abl"],"range":["#ffffff","#808080","#111111"]},"legend":null}}}
         ]},
        {"width":102,"height":110,"title":"KRAS","data":{"name":"bars"},"transform":[{"filter":"datum.gene==='KRAS'"}],
         "encoding":{"x":{"field":"grp","type":"nominal","sort":["LN","LN-221#25","Abl"],"scale":{"domain":["LN","LN-221#25","Abl"],"paddingInner":0.32,"paddingOuter":0.18},"title":null}},
         "layer":[
           {"mark":{"type":"rule","color":"black","strokeWidth":1.5},"encoding":{"y":{"field":"val","type":"quantitative","title":"Relative Expression Level","scale":{"domain":[0,2],"nice":false},"axis":{"values":[0,0.5,1,1.5,2],"format":".1f"}},"y2":{"field":"hi"}}},
           {"mark":{"type":"tick","color":"black","thickness":1.5,"size":14},"encoding":{"y":{"field":"hi","type":"quantitative","title":"Relative Expression Level"}}},
           {"mark":{"type":"bar","stroke":"black","strokeWidth":1.5},"encoding":{"y":{"field":"val","type":"quantitative","title":"Relative Expression Level"},"fill":{"field":"grp","type":"nominal","scale":{"domain":["LN","LN-221#25","Abl"],"range":["#ffffff","#808080","#111111"]},"legend":null}}}
         ]},
        {"width":102,"height":110,"title":"WNT5A","data":{"name":"bars"},"transform":[{"filter":"datum.gene==='WNT5A'"}],
         "encoding":{"x":{"field":"grp","type":"nominal","sort":["LN","LN-221#25","Abl"],"scale":{"domain":["LN","LN-221#25","Abl"],"paddingInner":0.32,"paddingOuter":0.18},"title":null}},
         "layer":[
           {"layer":[
             {"mark":{"type":"rule","color":"black","strokeWidth":1.5},"encoding":{"y":{"field":"val","type":"quantitative","title":"Relative Expression Level","scale":{"domain":[0,3],"range":[110,58],"nice":false,"clamp":true},"axis":{"values":[0,1,2,3],"format":"d","titleY":55}},"y2":{"field":"hi"}}},
             {"mark":{"type":"tick","color":"black","thickness":1.5,"size":14},"encoding":{"y":{"field":"hi","type":"quantitative","title":"Relative Expression Level"}}},
             {"mark":{"type":"bar","stroke":"black","strokeWidth":1.5},"encoding":{"y":{"field":"val","type":"quantitative","title":"Relative Expression Level"},"fill":{"field":"grp","type":"nominal","scale":{"domain":["LN","LN-221#25","Abl"],"range":["#ffffff","#808080","#111111"]},"legend":null}}}
           ]},
           {"transform":[{"filter":"datum.grp==='Abl'"}],
            "layer":[
             {"mark":{"type":"rule","color":"black","strokeWidth":1.5},"encoding":{"y":{"field":"val","type":"quantitative","title":null,"scale":{"domain":[60,70],"range":[50,0],"nice":false,"zero":false},"axis":{"values":[60,65,70],"format":"d","orient":"left"}},"y2":{"field":"hi"}}},
             {"mark":{"type":"tick","color":"black","thickness":1.5,"size":14},"encoding":{"y":{"field":"hi","type":"quantitative","title":null}}},
             {"mark":{"type":"bar","stroke":"black","strokeWidth":1.5,"color":"#111111"},"encoding":{"y":{"field":"val","type":"quantitative","title":null},"y2":{"datum":60}}}
           ]}
         ],
         "resolve":{"scale":{"y":"independent"},"axis":{"y":"independent"}}},
        {"width":102,"height":110,"title":"GSK3B","data":{"name":"bars"},"transform":[{"filter":"datum.gene==='GSK3B'"}],
         "encoding":{"x":{"field":"grp","type":"nominal","sort":["LN","LN-221#25","Abl"],"scale":{"domain":["LN","LN-221#25","Abl"],"paddingInner":0.32,"paddingOuter":0.18},"title":null}},
         "layer":[
           {"mark":{"type":"rule","color":"black","strokeWidth":1.5},"encoding":{"y":{"field":"val","type":"quantitative","title":"Relative Expression Level","scale":{"domain":[0,3],"nice":false},"axis":{"values":[0,1,2,3],"format":"d"}},"y2":{"field":"hi"}}},
           {"mark":{"type":"tick","color":"black","thickness":1.5,"size":14},"encoding":{"y":{"field":"hi","type":"quantitative","title":"Relative Expression Level"}}},
           {"mark":{"type":"bar","stroke":"black","strokeWidth":1.5},"encoding":{"y":{"field":"val","type":"quantitative","title":"Relative Expression Level"},"fill":{"field":"grp","type":"nominal","scale":{"domain":["LN","LN-221#25","Abl"],"range":["#ffffff","#808080","#111111"]},"legend":null}}}
         ]},
        {"width":102,"height":110,"title":"CTNNB1","data":{"name":"bars"},"transform":[{"filter":"datum.gene==='CTNNB1'"}],
         "encoding":{"x":{"field":"grp","type":"nominal","sort":["LN","LN-221#25","Abl"],"scale":{"domain":["LN","LN-221#25","Abl"],"paddingInner":0.32,"paddingOuter":0.18},"title":null}},
         "layer":[
           {"mark":{"type":"rule","color":"black","strokeWidth":1.5},"encoding":{"y":{"field":"val","type":"quantitative","title":"Relative Expression Level","scale":{"domain":[0,3],"nice":false},"axis":{"values":[0,1,2,3],"format":"d"}},"y2":{"field":"hi"}}},
           {"mark":{"type":"tick","color":"black","thickness":1.5,"size":14},"encoding":{"y":{"field":"hi","type":"quantitative","title":"Relative Expression Level"}}},
           {"mark":{"type":"bar","stroke":"black","strokeWidth":1.5},"encoding":{"y":{"field":"val","type":"quantitative","title":"Relative Expression Level"},"fill":{"field":"grp","type":"nominal","scale":{"domain":["LN","LN-221#25","Abl"],"range":["#ffffff","#808080","#111111"]},"legend":null}}}
         ]},
        {"width":102,"height":110,"title":"CDH3","data":{"name":"bars"},"transform":[{"filter":"datum.gene==='CDH3'"}],
         "encoding":{"x":{"field":"grp","type":"nominal","sort":["LN","LN-221#25","Abl"],"scale":{"domain":["LN","LN-221#25","Abl"],"paddingInner":0.32,"paddingOuter":0.18},"title":null}},
         "layer":[
           {"mark":{"type":"rule","color":"black","strokeWidth":1.5},"encoding":{"y":{"field":"val","type":"quantitative","title":"Relative Expression Level","scale":{"domain":[0,1.5],"nice":false},"axis":{"values":[0,0.5,1,1.5],"format":".1f"}},"y2":{"field":"hi"}}},
           {"mark":{"type":"tick","color":"black","thickness":1.5,"size":14},"encoding":{"y":{"field":"hi","type":"quantitative","title":"Relative Expression Level"}}},
           {"mark":{"type":"bar","stroke":"black","strokeWidth":1.5},"encoding":{"y":{"field":"val","type":"quantitative","title":"Relative Expression Level"},"fill":{"field":"grp","type":"nominal","scale":{"domain":["LN","LN-221#25","Abl"],"range":["#ffffff","#808080","#111111"]},"legend":null}}}
         ]},
        {"width":102,"height":110,"title":"CDH1","data":{"name":"bars"},"transform":[{"filter":"datum.gene==='CDH1'"}],
         "encoding":{"x":{"field":"grp","type":"nominal","sort":["LN","LN-221#25","Abl"],"scale":{"domain":["LN","LN-221#25","Abl"],"paddingInner":0.32,"paddingOuter":0.18},"title":null}},
         "layer":[
           {"mark":{"type":"rule","color":"black","strokeWidth":1.5},"encoding":{"y":{"field":"val","type":"quantitative","title":"Relative Expression Level","scale":{"domain":[0,1.5],"nice":false},"axis":{"values":[0,0.5,1,1.5],"format":".1f"}},"y2":{"field":"hi"}}},
           {"mark":{"type":"tick","color":"black","thickness":1.5,"size":14},"encoding":{"y":{"field":"hi","type":"quantitative","title":"Relative Expression Level"}}},
           {"mark":{"type":"bar","stroke":"black","strokeWidth":1.5},"encoding":{"y":{"field":"val","type":"quantitative","title":"Relative Expression Level"},"fill":{"field":"grp","type":"nominal","scale":{"domain":["LN","LN-221#25","Abl"],"range":["#ffffff","#808080","#111111"]},"legend":null}}}
         ]},
        {"width":102,"height":110,"title":"ADRB2","data":{"name":"bars"},"transform":[{"filter":"datum.gene==='ADRB2'"}],
         "encoding":{"x":{"field":"grp","type":"nominal","sort":["LN","LN-221#25","Abl"],"scale":{"domain":["LN","LN-221#25","Abl"],"paddingInner":0.32,"paddingOuter":0.18},"title":null}},
         "layer":[
           {"mark":{"type":"rule","color":"black","strokeWidth":1.5},"encoding":{"y":{"field":"val","type":"quantitative","title":"Relative Expression Level","scale":{"domain":[0,1.5],"nice":false},"axis":{"values":[0,0.5,1,1.5],"format":".1f"}},"y2":{"field":"hi"}}},
           {"mark":{"type":"tick","color":"black","thickness":1.5,"size":14},"encoding":{"y":{"field":"hi","type":"quantitative","title":"Relative Expression Level"}}},
           {"mark":{"type":"bar","stroke":"black","strokeWidth":1.5},"encoding":{"y":{"field":"val","type":"quantitative","title":"Relative Expression Level"},"fill":{"field":"grp","type":"nominal","scale":{"domain":["LN","LN-221#25","Abl"],"range":["#ffffff","#808080","#111111"]},"legend":null}}}
         ]},
        {"width":102,"height":110,"title":"ERBB2","data":{"name":"bars"},"transform":[{"filter":"datum.gene==='ERBB2'"}],
         "encoding":{"x":{"field":"grp","type":"nominal","sort":["LN","LN-221#25","Abl"],"scale":{"domain":["LN","LN-221#25","Abl"],"paddingInner":0.32,"paddingOuter":0.18},"title":null}},
         "layer":[
           {"mark":{"type":"rule","color":"black","strokeWidth":1.5},"encoding":{"y":{"field":"val","type":"quantitative","title":"Relative Expression Level","scale":{"domain":[0,1.5],"nice":false},"axis":{"values":[0,0.5,1,1.5],"format":".1f"}},"y2":{"field":"hi"}}},
           {"mark":{"type":"tick","color":"black","thickness":1.5,"size":14},"encoding":{"y":{"field":"hi","type":"quantitative","title":"Relative Expression Level"}}},
           {"mark":{"type":"bar","stroke":"black","strokeWidth":1.5},"encoding":{"y":{"field":"val","type":"quantitative","title":"Relative Expression Level"},"fill":{"field":"grp","type":"nominal","scale":{"domain":["LN","LN-221#25","Abl"],"range":["#ffffff","#808080","#111111"]},"legend":null}}}
         ]},
        {"width":102,"height":110,"title":"MAPK1","data":{"name":"bars"},"transform":[{"filter":"datum.gene==='MAPK1'"}],
         "encoding":{"x":{"field":"grp","type":"nominal","sort":["LN","LN-221#25","Abl"],"scale":{"domain":["LN","LN-221#25","Abl"],"paddingInner":0.32,"paddingOuter":0.18},"title":null}},
         "layer":[
           {"mark":{"type":"rule","color":"black","strokeWidth":1.5},"encoding":{"y":{"field":"val","type":"quantitative","title":"Relative Expression Level","scale":{"domain":[0,1.5],"nice":false},"axis":{"values":[0,0.5,1,1.5],"format":".1f"}},"y2":{"field":"hi"}}},
           {"mark":{"type":"tick","color":"black","thickness":1.5,"size":14},"encoding":{"y":{"field":"hi","type":"quantitative","title":"Relative Expression Level"}}},
           {"mark":{"type":"bar","stroke":"black","strokeWidth":1.5},"encoding":{"y":{"field":"val","type":"quantitative","title":"Relative Expression Level"},"fill":{"field":"grp","type":"nominal","scale":{"domain":["LN","LN-221#25","Abl"],"range":["#ffffff","#808080","#111111"]},"legend":null}}}
         ]}
      ]
    }
  ]
}
